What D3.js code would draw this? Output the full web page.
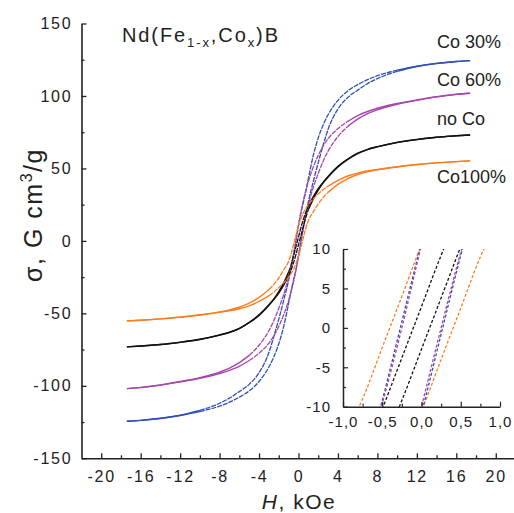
<!DOCTYPE html>
<html><head><meta charset="utf-8">
<script src="https://cdn.jsdelivr.net/npm/d3@7"></script>
<style>
html,body{margin:0;padding:0;background:#fff;}
text{font-family:"Liberation Sans",Arial,sans-serif;fill:#222;}
</style></head>
<body><svg id="c" width="514" height="513"></svg>
<script>
// ---- data ----
const H = [-17.4,-16,-14,-12,-10,-8,-7,-6,-5,-4,-3,-2.5,-2,-1.5,-1,-0.75,-0.5,-0.25,0,0.25,0.5,0.75,1,1.5,2,2.5,3,4,5,6,7,8,10,12,14,16,17.4];
const co30Desc = [-124.4,-123.8,-122.4,-120.3,-117,-112,-108.5,-104,-99,-91,-77,-66,-54,-41,-27,-18,-9.2,0.8,10.8,19.5,27,34.5,43,59,71,80,87,97,103.5,107.8,111.3,114,117.8,120.5,122.5,123.8,124.4];
const co30Asc  = [-124.4,-123.8,-122.5,-120.5,-117.8,-114,-111.3,-107.8,-103.5,-97,-87,-80,-71,-59,-43,-34.5,-27,-19.5,-10.8,-0.8,9.2,18,27,41,54,66,77,91,99,104,108.5,112,117,120.3,122.4,123.8,124.4];
const co60Desc = [-101.9,-101.1,-99.4,-97,-94.3,-90.5,-87.8,-84,-79,-72,-62,-55,-46.5,-37,-25,-18,-9.6,0,10.5,20,28,35,41,51,59,65.5,70.5,77.5,82.5,86.5,89.3,91.5,94.8,97.3,99.5,101.2,101.9];
const co60Asc  = [-101.9,-101.2,-99.5,-97.3,-94.8,-91.5,-89.3,-86.5,-82.5,-77.5,-70.5,-65.5,-59,-51,-41,-35,-28,-20,-10,0,9.6,18,25,37,46.5,55,62,72,79,84,87.8,90.5,94.3,97,99.4,101.1,101.9];
const noCoDesc = [-73.1,-72.5,-71.5,-69.9,-67.9,-64.9,-63,-60.3,-56.2,-51,-44,-40,-35,-29,-21.5,-16.5,-10.3,-3.8,2.7,9.2,15,20,24,30.5,36,40.5,44.5,51.5,56.5,60.5,63.2,65,68,70,71.5,72.5,73.1];
const noCoAsc  = [-73.1,-72.5,-71.5,-70,-68,-65,-63.2,-60.5,-56.5,-51.5,-44.5,-40.5,-36,-30.5,-24,-20,-15,-9.2,-2.7,3.8,10.3,16.5,21.5,29,35,40,44,51,56.2,60.3,63,64.9,67.9,69.9,71.5,72.5,73.1];
const co100Desc = [-55.2,-54.7,-53.8,-52.6,-51,-49,-47.6,-45.8,-43,-39,-33.5,-30,-25.5,-20,-14,-9,-2.5,4,10.5,15.5,19.5,22.5,25,29,32.3,35.3,37.8,41.8,44.8,46.8,48.2,49.3,51.2,52.7,53.8,54.7,55.2];
const co100Asc  = [-55.2,-54.7,-53.8,-52.7,-51.2,-49.3,-48.2,-46.8,-44.8,-41.8,-37.8,-35.3,-32.3,-29,-25,-22.5,-19.5,-15.5,-10.5,-4,2.5,9,14,20,25.5,30,33.5,39,43,45.8,47.6,49,51,52.6,53.8,54.7,55.2];
const seriesNames = ["Co 30%","Co 60%","no Co","Co100%"];
const seriesDesc = [co30Desc, co60Desc, noCoDesc, co100Desc];
const seriesAsc  = [co30Asc, co60Asc, noCoAsc, co100Asc];
const xTicks = [-20,-16,-12,-8,-4,0,4,8,12,16,20];
const yTicks = [-150,-100,-50,0,50,100,150];
const insetXTicks = [-1,-0.5,0,0.5,1];
const insetYTicks = [-10,-5,0,5,10];

// ---- styles ----
const colors = ["#2f4fb5","#a546ad","#111111","#ff7b1c"];
const labelPos = [[437,48],[437,86],[437,125],[437,183]];
const dashLimit = [10, 5, 1, 3];   // |H| range drawn with the broken (dashed) look

const svg = d3.select("#c");
const x = d3.scaleLinear().domain([-22,22]).range([81.5,515.5]);
const y = d3.scaleLinear().domain([-150,150]).range([458.3,23.5]);

// main axes
const gx = svg.append("g").attr("transform",`translate(0,${y(-150)})`);
gx.call(d3.axisBottom(x).tickValues(xTicks).tickSizeInner(-5).tickSizeOuter(0).tickPadding(12).tickFormat(d=>String(d)));
const gxm = svg.append("g").attr("transform",`translate(0,${y(-150)})`);
gxm.call(d3.axisBottom(x).tickValues(d3.range(-18,22,4)).tickSizeInner(-3).tickSizeOuter(0).tickFormat(""));
gxm.select(".domain").remove();

const gy = svg.append("g").attr("transform",`translate(${x(-22)},0)`);
gy.call(d3.axisLeft(y).tickValues(yTicks).tickSizeInner(-5).tickSizeOuter(0).tickPadding(9).tickFormat(d=>String(d)));
const gym = svg.append("g").attr("transform",`translate(${x(-22)},0)`);
gym.call(d3.axisLeft(y).tickValues(d3.range(-125,150,50)).tickSizeInner(-3).tickSizeOuter(0).tickFormat(""));
gym.select(".domain").remove();

svg.selectAll(".domain").attr("stroke","#222").attr("stroke-width",1.6);
svg.selectAll(".tick line").attr("stroke","#222").attr("stroke-width",1.3);
[gx,gy].forEach(g=>g.selectAll("text").attr("font-size",16).attr("fill","#3a3a3a").style("letter-spacing","1.8px").attr("font-family","Liberation Sans, Arial, sans-serif"));

// main curves
const line = d3.line().x(d=>x(d[0])).y(d=>y(d[1])).curve(d3.curveMonotoneX);
seriesNames.forEach((nm,i)=>{
  [seriesDesc[i], seriesAsc[i]].forEach(arr=>{
    const pts = H.map((h,k)=>[h,arr[k]]);
    const L = dashLimit[i];
    const left = pts.filter(p=>p[0]<=-L), mid = pts.filter(p=>p[0]>=-L&&p[0]<=L), right = pts.filter(p=>p[0]>=L);
    [left,right].forEach(seg=>{ if(seg.length>1) svg.append("path").attr("d",line(seg)).attr("fill","none")
      .attr("stroke",colors[i]).attr("stroke-width",1.4); });
    svg.append("path").attr("d",line(mid)).attr("fill","none")
      .attr("stroke",colors[i]).attr("stroke-width",1.3).attr("stroke-dasharray","5,1");
  });
  svg.append("text").attr("x",labelPos[i][0]).attr("y",labelPos[i][1])
    .attr("font-size",18).attr("fill","#333").text(nm);
});

// title
const t = svg.append("text").attr("x",122).attr("y",42).attr("font-size",20).attr("fill","#222").style("letter-spacing","1.9px");
t.append("tspan").text("Nd(Fe");
t.append("tspan").attr("font-size",13).attr("dy",5).text("1-x");
t.append("tspan").attr("dy",-5).text(",Co");
t.append("tspan").attr("font-size",13).attr("dy",5).text("x");
t.append("tspan").attr("dy",-5).text(")B");

// axis titles
const xt = svg.append("text").attr("x",299).attr("y",509).attr("text-anchor","middle").attr("font-size",21).attr("fill","#333").style("letter-spacing","1.5px");
xt.append("tspan").attr("font-style","italic").text("H");
xt.append("tspan").text(", kOe");

const yt = svg.append("text").attr("transform","translate(42,215) rotate(-90)").attr("text-anchor","middle").attr("font-size",25).attr("fill","#333").style("letter-spacing","1.5px");
yt.append("tspan").text("\u03c3, G cm");
yt.append("tspan").attr("font-size",16).attr("dy",-10).text("3");
yt.append("tspan").attr("dy",10).text("/g");

// inset
const ix = d3.scaleLinear().domain([-1,1]).range([343,500]);
const iy = d3.scaleLinear().domain([-10,10]).range([406.7,249]);
const ins = svg.append("g");
ins.append("clipPath").attr("id","ic").append("rect")
  .attr("x",ix(-1)).attr("y",iy(10)).attr("width",ix(1)-ix(-1)).attr("height",iy(-10)-iy(10));
const ilines = ins.append("g").attr("clip-path","url(#ic)");
const iline = d3.line().x(d=>ix(d[0])).y(d=>iy(d[1])).curve(d3.curveMonotoneX);
const ordIn = [3,2,0,1];
ordIn.forEach(i=>{
  [seriesDesc[i], seriesAsc[i]].forEach(arr=>{
    const pts = H.map((h,k)=>[h,arr[k]]).filter(p=>p[0]>=-2.5&&p[0]<=2.5);
    ilines.append("path").attr("d",iline(pts)).attr("fill","none")
      .attr("stroke",colors[i]).attr("stroke-width",1.3).attr("stroke-dasharray","3,2");
  });
});
const comma = d => d3.format(".1f")(d).replace("\u2212","-").replace(".",",");
const igx = ins.append("g").attr("transform",`translate(0,${iy(-10)})`);
igx.call(d3.axisBottom(ix).tickValues(insetXTicks).tickSizeInner(-5).tickSizeOuter(0).tickPadding(10).tickFormat(comma));
const igxm = ins.append("g").attr("transform",`translate(0,${iy(-10)})`);
igxm.call(d3.axisBottom(ix).tickValues([-0.75,-0.25,0.25,0.75]).tickSizeInner(-3).tickSizeOuter(0).tickFormat(""));
igxm.select(".domain").remove();
const igy = ins.append("g").attr("transform",`translate(${ix(-1)},0)`);
igy.call(d3.axisLeft(iy).tickValues(insetYTicks).tickSizeInner(-5).tickSizeOuter(0).tickPadding(12).tickFormat(d=>String(d)));
const igym = ins.append("g").attr("transform",`translate(${ix(-1)},0)`);
igym.call(d3.axisLeft(iy).tickValues([-7.5,-2.5,2.5,7.5]).tickSizeInner(-3).tickSizeOuter(0).tickFormat(""));
igym.select(".domain").remove();
ins.selectAll(".domain").attr("stroke","#222").attr("stroke-width",1.5);
ins.selectAll(".tick line").attr("stroke","#222").attr("stroke-width",1.2);
[igx,igy].forEach(g=>g.selectAll("text").attr("font-size",15).attr("fill","#3a3a3a").style("letter-spacing","1px").attr("font-family","Liberation Sans, Arial, sans-serif"));
</script></body></html>
